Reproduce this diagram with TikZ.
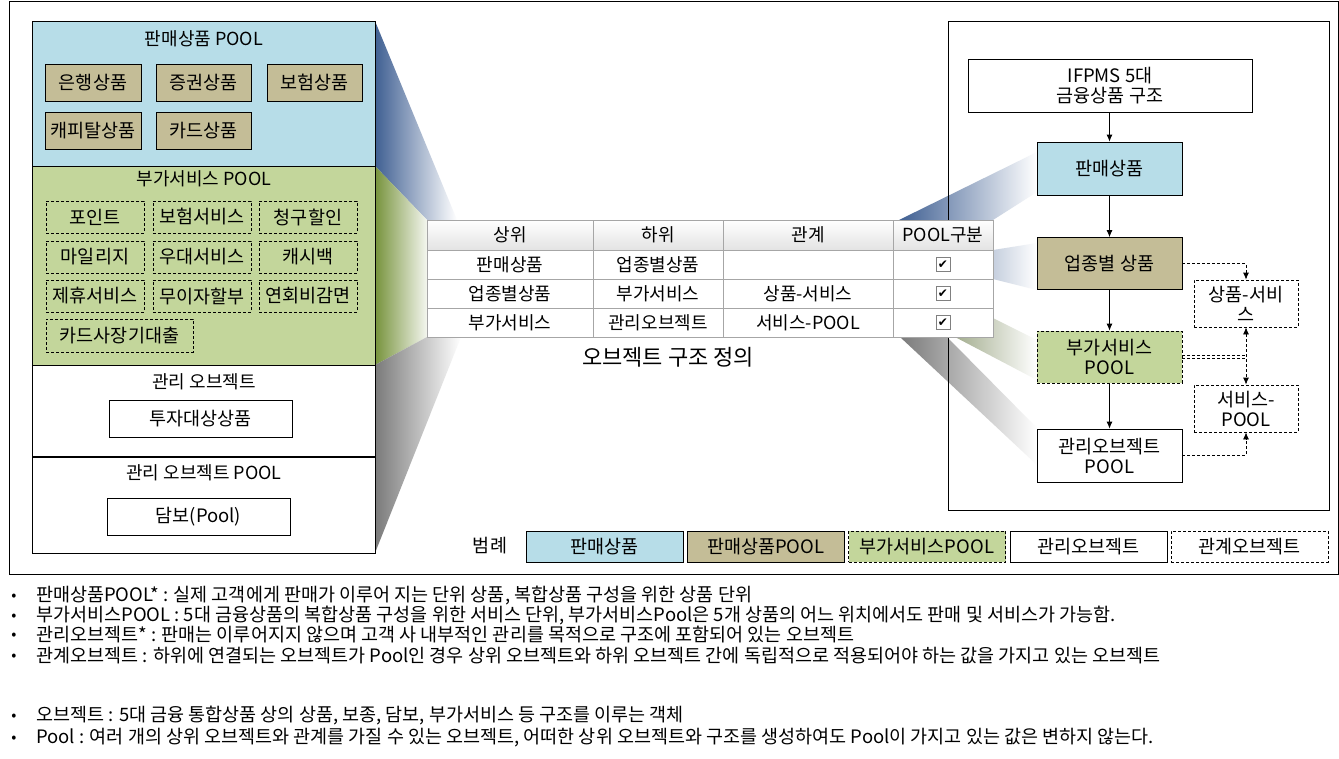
\documentclass[tikz,border=0pt]{standalone}
\usepackage{fontspec}
\setmainfont{Noto Sans CJK KR}
\newfontfamily\dejavu{DejaVu Sans}
\usetikzlibrary{arrows.meta,calc}
\definecolor{cblue}{HTML}{B7DDE8}
\definecolor{ctan}{HTML}{C4BD97}
\definecolor{cgreen}{HTML}{C3D69B}
\definecolor{fblue}{HTML}{3F5F92}
\definecolor{fgreen}{HTML}{77933C}
\definecolor{fgray}{HTML}{7A7A7A}
\definecolor{tgrid}{HTML}{A6A6A6}
\tikzset{
  box/.style={draw=black, line width=0.8pt, inner sep=0pt, align=center, font=\fontsize{18.5}{20}\selectfont},
  dbox/.style={box, dash pattern=on 3pt off 2pt},
  panel/.style={draw=black, line width=0.8pt, inner sep=0pt, anchor=north west},
  ptitle/.style={inner sep=0pt, font=\fontsize{18}{20}\selectfont},
  rbox/.style={box, minimum width=145, minimum height=53, font=\fontsize{18.5}{20}\selectfont},
  relbox/.style={dbox, minimum width=104, minimum height=47, font=\fontsize{18.5}{20}\selectfont},
  lgbox/.style={box, minimum width=157, minimum height=31, font=\fontsize{18.5}{20}\selectfont},
  cell/.style={draw=tgrid, line width=0.8pt, inner sep=0pt, font=\fontsize{18}{20}\selectfont},
  hcell/.style={cell, top color=white, bottom color=gray!22, minimum height=30},
  chk/.style={draw=gray, line width=0.8pt, fill=white, minimum size=14pt, inner sep=0pt, font=\dejavu\fontsize{12}{12}\selectfont},
  arr/.style={line width=0.8pt, -{Latex[length=7pt,width=6pt]}},
  dline/.style={line width=0.8pt, dash pattern=on 3pt off 2pt},
  darr/.style={dline, -{Latex[length=7pt,width=6pt]}},
  note/.style={anchor=west, inner sep=0pt, font=\fontsize{18.5}{20}\selectfont},
  bul/.style={inner sep=0pt, font=\fontsize{15}{16}\selectfont},
}
\begin{document}
\begin{tikzpicture}[x=1pt,y=-1pt]
\useasboundingbox (0,0) rectangle (1339,758);
\fill[white] (0,0) rectangle (1339,758);

% funnels (left)
\shade[left color=fblue, right color=white] (375,21) -- (457,220) -- (427,220) -- (375,166) -- cycle;
\shade[left color=fgreen, right color=fgreen!8] (375,166) -- (427,220) -- (427,337) -- (375,365) -- cycle;
\shade[left color=fgray, right color=white] (375,365) -- (427,337) -- (461,337) -- (375,553) -- cycle;
% funnels (right)
\shade[left color=fblue, right color=white] (899,220) -- (1037,152) -- (1037,192) -- (993,220) -- cycle;
\shade[left color=fblue!30, right color=white] (993,250) -- (1037,243) -- (1037,290) -- (993,279) -- cycle;
\shade[left color=fgreen!50!gray!70, right color=white] (955,337) -- (993,318) -- (1037,340) -- (1037,380) -- cycle;
\shade[left color=fgray, right color=white] (900,337) -- (947,337) -- (1037,428) -- (1037,465) -- cycle;

% frames
\draw[line width=0.8pt] (9,1) rectangle (1338,574);
\draw[line width=0.8pt] (948,21) rectangle (1329,510);

% left stack
\node[panel, fill=cblue, minimum width=343, minimum height=145] (salespool) at (32,21) {};
\node[panel, fill=cgreen, minimum width=343, minimum height=199] (svcpool) at (32,166) {};
\node[panel, fill=white, minimum width=343, minimum height=91] (mgmt) at (32,365) {};
\node[panel, fill=white, minimum width=343, minimum height=97] (mgmtpool) at (32,456) {};
\draw[line width=1.8pt] (mgmt.south west) -- (mgmt.south east);

\node[ptitle] (t1) at (204,39) {판매상품 POOL};
\node[box, fill=ctan, minimum width=96, minimum height=37] (p1) at (93,82.5) {은행상품};
\node[box, fill=ctan, minimum width=95, minimum height=37] (p2) at (203.5,82.5) {증권상품};
\node[box, fill=ctan, minimum width=95, minimum height=37] (p3) at (314.5,82.5) {보험상품};
\node[box, fill=ctan, minimum width=96, minimum height=37] (p4) at (93,130.5) {캐피탈상품};
\node[box, fill=ctan, minimum width=95, minimum height=37] (p5) at (203.5,130.5) {카드상품};

\node[ptitle] (t2) at (204,179) {부가서비스 POOL};
\node[dbox, minimum width=98, minimum height=32] (s1) at (95,217) {포인트};
\node[dbox, minimum width=98, minimum height=32] (s2) at (202,217) {보험서비스};
\node[dbox, minimum width=98, minimum height=32] (s3) at (308,217) {청구할인};
\node[dbox, minimum width=98, minimum height=32] (s4) at (95,257) {마일리지};
\node[dbox, minimum width=98, minimum height=32] (s5) at (202,257) {우대서비스};
\node[dbox, minimum width=98, minimum height=32] (s6) at (308,257) {캐시백};
\node[dbox, minimum width=98, minimum height=32] (s7) at (95,296) {제휴서비스};
\node[dbox, minimum width=98, minimum height=32] (s8) at (202,296) {무이자할부};
\node[dbox, minimum width=98, minimum height=32] (s9) at (308,296) {연회비감면};
\node[dbox, minimum width=147, minimum height=33] (s10) at (119.5,335.5) {카드사장기대출};

\node[ptitle] (t3) at (204,382) {관리 오브젝트};
\node[box, minimum width=183, minimum height=37] (m1) at (200.5,418.5) {투자대상상품};
\node[ptitle] (t4) at (204,473) {관리 오브젝트 POOL};
\node[box, minimum width=183, minimum height=37] (m2) at (198.5,516.5) {담보(Pool)};

% table
\node[hcell, minimum width=166] (h1) at (510,235) {상위};
\node[hcell, minimum width=130] (h2) at (658,235) {하위};
\node[hcell, minimum width=170] (h3) at (808,235) {관계};
\node[hcell, minimum width=100] (h4) at (943,235) {POOL구분};
\node[cell, fill=white, minimum width=166, minimum height=29] (a1) at (510,264.5) {판매상품};
\node[cell, fill=white, minimum width=130, minimum height=29] (a2) at (658,264.5) {업종별상품};
\node[cell, fill=white, minimum width=170, minimum height=29] (a3) at (808,264.5) {};
\node[cell, fill=white, minimum width=100, minimum height=29] (a4) at (943,264.5) {};
\node[cell, fill=white, minimum width=166, minimum height=29] (b1) at (510,293.5) {업종별상품};
\node[cell, fill=white, minimum width=130, minimum height=29] (b2) at (658,293.5) {부가서비스};
\node[cell, fill=white, minimum width=170, minimum height=29] (b3) at (808,293.5) {상품-서비스};
\node[cell, fill=white, minimum width=100, minimum height=29] (b4) at (943,293.5) {};
\node[cell, fill=white, minimum width=166, minimum height=29] (c1) at (510,322.5) {부가서비스};
\node[cell, fill=white, minimum width=130, minimum height=29] (c2) at (658,322.5) {관리오브젝트};
\node[cell, fill=white, minimum width=170, minimum height=29] (c3) at (808,322.5) {서비스-POOL};
\node[cell, fill=white, minimum width=100, minimum height=29] (c4) at (943,322.5) {};
\node[chk] (k1) at (a4) {✔};
\node[chk] (k2) at (b4) {✔};
\node[chk] (k3) at (c4) {✔};
\node[inner sep=0pt, font=\fontsize{22}{24}\selectfont] (cap) at (668,357) {오브젝트 구조 정의};

% right structure
\node[box, minimum width=284, minimum height=53, font=\fontsize{18.5}{20}\selectfont] (top) at (1110,86) {IFPMS 5대\\금융상품 구조};
\node[rbox, fill=cblue] (r1) at (1109.5,168.5) {판매상품};
\node[rbox, fill=ctan, minimum height=52] (r2) at (1109.5,263.5) {업종별 상품};
\node[rbox, fill=cgreen, minimum height=52, dash pattern=on 3pt off 2pt] (r3) at (1109.5,357) {부가서비스\\POOL};
\node[rbox] (r4) at (1109.5,455.5) {관리오브젝트\\POOL};
\node[relbox] (rel1) at (1246,303.5) {상품-서비\\스};
\node[relbox] (rel2) at (1246,408.5) {서비스-\\POOL};

\draw[arr] (r1.north |- top.south) -- (r1.north);
\draw[arr] (r1) -- (r2);
\draw[arr] (r2) -- (r3);
\draw[arr] (r3) -- (r4);
\draw[darr] (r2.east) -- (r2.east -| rel1.north) -- (rel1.north);
\draw[dline] ([yshift=1.5pt]r3.east) -- ([yshift=1.5pt]r3.east -| rel1.south);
\draw[dline] ([yshift=-1.5pt]r3.east) -- ([yshift=-1.5pt]r3.east -| rel1.south);
\draw[darr, {Latex[length=7pt,width=6pt]}-{Latex[length=7pt,width=6pt]}] (rel1.south) -- (rel2.north);
\draw[darr] (r4.east) -- (r4.east -| rel2.south) -- (rel2.south);

% legend
\node[inner sep=0pt, font=\fontsize{18.5}{20}\selectfont] (lg) at (490,546) {범례};
\node[lgbox, fill=cblue] (l1) at (604.5,546.5) {판매상품};
\node[lgbox, fill=ctan] (l2) at (765.8,546.5) {판매상품POOL};
\node[lgbox, fill=cgreen, dash pattern=on 3pt off 2pt] (l3) at (927,546.5) {부가서비스POOL};
\node[lgbox] (l4) at (1088.4,546.5) {관리오브젝트};
\node[lgbox, dash pattern=on 3pt off 2pt] (l5) at (1249.7,546.5) {관계오브젝트};

% notes
\node[bul] (b1) at (14,597) {•};
\node[note] (n1) at (36,596) {판매상품POOL* : 실제 고객에게 판매가 이루어 지는 단위 상품, 복합상품 구성을 위한 상품 단위};
\node[bul] (b2) at (14,617) {•};
\node[note] (n2) at (36,616) {부가서비스POOL : 5대 금융상품의 복합상품 구성을 위한 서비스 단위, 부가서비스Pool은 5개 상품의 어느 위치에서도 판매 및 서비스가 가능함.};
\node[bul] (b3) at (14,636) {•};
\node[note] (n3) at (36,635) {관리오브젝트* : 판매는 이루어지지 않으며 고객 사 내부적인 관리를 목적으로 구조에 포함되어 있는 오브젝트};
\node[bul] (b4) at (14,657) {•};
\node[note] (n4) at (36,656) {관계오브젝트 : 하위에 연결되는 오브젝트가 Pool인 경우 상위 오브젝트와 하위 오브젝트 간에 독립적으로 적용되어야 하는 값을 가지고 있는 오브젝트};
\node[bul] (b5) at (14,717) {•};
\node[note] (n5) at (36,716) {오브젝트 : 5대 금융 통합상품 상의 상품, 보종, 담보, 부가서비스 등 구조를 이루는 객체};
\node[bul] (b6) at (14,739) {•};
\node[note] (n6) at (36,738) {Pool : 여러 개의 상위 오브젝트와 관계를 가질 수 있는 오브젝트, 어떠한 상위 오브젝트와 구조를 생성하여도 Pool이 가지고 있는 값은 변하지 않는다.};
\end{tikzpicture}
\end{document}
